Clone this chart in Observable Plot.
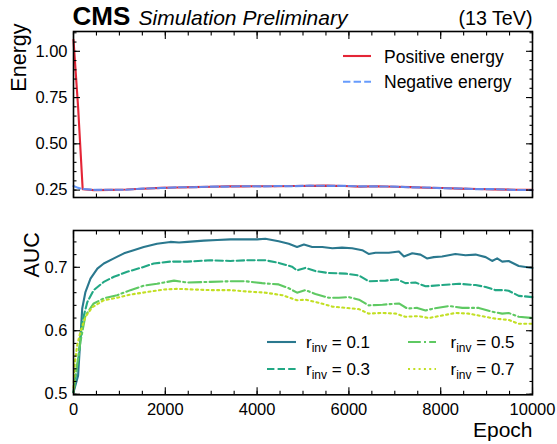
<!DOCTYPE html>
<html><head><meta charset="utf-8">
<script src="https://cdn.jsdelivr.net/npm/d3@7"></script>
<script src="https://cdn.jsdelivr.net/npm/@observablehq/plot@0.6"></script>
<style>
body{margin:0;background:#fff;}
#wrap{position:relative;width:557px;height:444px;overflow:hidden;font-family:"Liberation Sans",Arial,sans-serif;background:#fff;}
#top{position:absolute;left:0;top:0;}
#bot{position:absolute;left:0;top:205px;}
#legend{position:absolute;left:0;top:0;pointer-events:none;}
</style></head><body>
<div id="wrap"><div id="top"></div><div id="bot"></div><svg id="legend" width="557" height="444"></svg></div>
<script>
// ---- data ----
const energyEpochs = [0,100,200,450,800,1150,1500,1900,2250,2600,3000,3350,3700,4100,4450,4800,5150,5500,5900,6250,6600,7000,7350,7700,8050,8400,8800,9150,9600,10000];
const positiveEnergy = [1.062,0.700,0.255,0.250,0.251,0.253,0.257,0.262,0.264,0.266,0.268,0.270,0.270,0.271,0.271,0.272,0.273,0.274,0.272,0.269,0.271,0.268,0.266,0.263,0.261,0.258,0.256,0.254,0.252,0.251];
const negativeEnergy = [0.272,0.262,0.256,0.251,0.252,0.252,0.258,0.261,0.265,0.265,0.269,0.269,0.271,0.270,0.272,0.271,0.274,0.273,0.273,0.270,0.270,0.269,0.265,0.264,0.260,0.259,0.255,0.255,0.251,0.250];

const r01Epochs = [0,100,190,260,370,520,660,880,1100,1310,1530,1820,2110,2300,2480,2840,3130,3420,3750,4000,4180,4470,4690,4870,5020,5200,5420,5640,5850,6070,6290,6430,6580,6870,7090,7200,7380,7560,7700,7850,8030,8320,8540,8760,8980,9120,9230,9340,9480,9700,10000];
const r01Auc = [0.503,0.529,0.635,0.661,0.682,0.698,0.706,0.714,0.722,0.727,0.732,0.737,0.740,0.739,0.740,0.742,0.743,0.744,0.744,0.744,0.745,0.741,0.737,0.732,0.736,0.732,0.732,0.730,0.731,0.730,0.727,0.721,0.723,0.723,0.725,0.717,0.722,0.720,0.714,0.716,0.717,0.721,0.719,0.720,0.716,0.710,0.714,0.709,0.710,0.702,0.699];

const r03Epochs = [0,115,190,300,440,660,880,1170,1460,1750,2110,2480,2980,3420,3750,4180,4470,4760,4870,5050,5270,5560,5930,6220,6430,6800,7050,7230,7450,7670,8030,8400,8760,8980,9190,9380,9480,9700,10000];
const r03Auc = [0.503,0.561,0.614,0.645,0.664,0.677,0.685,0.693,0.699,0.706,0.709,0.709,0.711,0.710,0.711,0.711,0.707,0.701,0.695,0.699,0.694,0.691,0.690,0.687,0.678,0.679,0.681,0.675,0.676,0.670,0.672,0.674,0.672,0.669,0.664,0.664,0.663,0.655,0.653];

const r05Epochs = [0,45,150,260,440,660,950,1240,1530,1820,2190,2480,2980,3420,3750,4110,4470,4690,4870,5050,5270,5560,5780,6000,6220,6430,6730,7090,7270,7490,7670,7850,8180,8470,8830,9120,9340,9480,9700,10000];
const r05Auc = [0.503,0.529,0.582,0.624,0.643,0.651,0.656,0.664,0.671,0.674,0.679,0.676,0.677,0.678,0.678,0.675,0.673,0.667,0.660,0.664,0.658,0.652,0.652,0.653,0.649,0.640,0.641,0.643,0.635,0.636,0.632,0.635,0.639,0.636,0.636,0.630,0.627,0.628,0.622,0.620];

const r07Epochs = [0,30,80,150,260,410,660,950,1240,1600,1970,2260,2620,2980,3420,3750,4180,4550,4870,5050,5350,5640,5930,6220,6430,6730,7020,7230,7520,7740,8030,8320,8610,8900,9190,9480,9700,10000];
const r07Auc = [0.510,0.550,0.577,0.598,0.622,0.637,0.648,0.652,0.657,0.661,0.665,0.666,0.665,0.664,0.664,0.662,0.660,0.656,0.648,0.649,0.644,0.638,0.636,0.634,0.627,0.628,0.627,0.622,0.623,0.620,0.624,0.628,0.627,0.623,0.619,0.617,0.611,0.611];

const energyLabels = ["Positive energy", "Negative energy"];
const rinvLabels = ["0.1", "0.3", "0.5", "0.7"];
const xMajorTicks = [0,2000,4000,6000,8000,10000];
const xMinorTicks = d3.range(0, 10001, 500);
const energyMajorTicks = [0.25,0.50,0.75,1.00];
const energyMinorTicks = d3.range(0.25, 1.101, 0.05);
const aucMajorTicks = [0.5,0.6,0.7];
const aucMinorTicks = d3.range(0.5, 0.7501, 0.02);

// ---- styles ----
const posColor = "#e42536", negColor = "#5790fc";
const rColors = ["#2a788e", "#22a884", "#5ec962", "#c2df23"];
const rDash = [null, "7.4,3.2", "12.8,3.2,2,3.2", "2,3.3"];
const font = "Liberation Sans, Arial, sans-serif";

const mk = (ex, vs) => ex.map((e, i) => ({epoch: e, value: vs[i]}));
const posData = mk(energyEpochs, positiveEnergy);
const negData = mk(energyEpochs, negativeEnergy);
const aucData = [mk(r01Epochs, r01Auc), mk(r03Epochs, r03Auc), mk(r05Epochs, r05Auc), mk(r07Epochs, r07Auc)];

const none = () => "";
function frameTicks(yMaj, yMin) {
  const t = (axis, anchor, ticks, size) => axis({anchor, ticks, tickSize: -size, tickFormat: none, label: null, strokeWidth: 1.1});
  return [
    t(Plot.axisX, "bottom", xMajorTicks, 7), t(Plot.axisX, "bottom", xMinorTicks, 3.5),
    t(Plot.axisX, "top", xMajorTicks, 7), t(Plot.axisX, "top", xMinorTicks, 3.5),
    t(Plot.axisY, "left", yMaj, 7), t(Plot.axisY, "left", yMin, 3.5),
    t(Plot.axisY, "right", yMaj, 7), t(Plot.axisY, "right", yMin, 3.5)
  ];
}
const style = {fontFamily: font, fontSize: "16.5px", background: "white", overflow: "visible", color: "black"};

const topPlot = Plot.plot({
  width: 557, height: 205, marginLeft: 73, marginRight: 25, marginTop: 31, marginBottom: 8,
  style,
  x: {domain: [0, 10000]},
  y: {domain: [0.21, 1.107]},
  marks: [
    Plot.line(posData, {x: "epoch", y: "value", stroke: posColor, strokeWidth: 2.1}),
    Plot.line(negData, {x: "epoch", y: "value", stroke: negColor, strokeWidth: 2.1, strokeDasharray: "7.4,3.2", strokeOpacity: 0.9}),
    ...frameTicks(energyMajorTicks, energyMinorTicks),
    Plot.axisY({anchor: "left", ticks: energyMajorTicks, tickSize: 0, tickPadding: 6, tickFormat: d3.format(".2f"), label: null}),
    Plot.frame({stroke: "black", strokeWidth: 1.6}),
    Plot.text(["Energy"], {text: d => d, frameAnchor: "top-left", rotate: -90, textAnchor: "end", lineAnchor: "bottom", dx: -47.5, dy: -8, fontSize: 21.5}),
    Plot.text(["CMS"], {text: d => d, frameAnchor: "top-left", textAnchor: "start", lineAnchor: "bottom", dx: -1, dy: -6.5, fontSize: 26, fontWeight: "bold"}),
    Plot.text(["Simulation Preliminary"], {text: d => d, frameAnchor: "top-left", textAnchor: "start", lineAnchor: "bottom", dx: 65, dy: -6.5, fontSize: 21, fontStyle: "italic"}),
    Plot.text(["(13 TeV)"], {text: d => d, frameAnchor: "top-right", textAnchor: "end", lineAnchor: "bottom", dx: 0, dy: -6.5, fontSize: 19.7})
  ]
});
document.getElementById("top").append(topPlot);

const botPlot = Plot.plot({
  width: 557, height: 239, marginLeft: 73, marginRight: 25, marginTop: 25, marginBottom: 49.7,
  style,
  x: {domain: [0, 10000]},
  y: {domain: [0.499, 0.758]},
  marks: [
    ...aucData.map((d, i) => Plot.line(d, {x: "epoch", y: "value", stroke: rColors[i], strokeWidth: 2.1, strokeDasharray: rDash[i]})),
    ...frameTicks(aucMajorTicks, aucMinorTicks),
    Plot.axisY({anchor: "left", ticks: aucMajorTicks, tickSize: 0, tickPadding: 6, tickFormat: d3.format(".1f"), label: null}),
    Plot.axisX({anchor: "bottom", ticks: xMajorTicks, tickSize: 0, tickPadding: 8, tickFormat: d3.format("d"), label: null}),
    Plot.frame({stroke: "black", strokeWidth: 1.6}),
    Plot.text(["AUC"], {text: d => d, frameAnchor: "top-left", rotate: -90, textAnchor: "end", lineAnchor: "bottom", dx: -34.5, dy: 1.7, fontSize: 21.5}),
    Plot.text(["Epoch"], {text: d => d, frameAnchor: "bottom-right", textAnchor: "end", lineAnchor: "bottom", dx: 0, dy: 42.5, fontSize: 21})
  ]
});
document.getElementById("bot").append(botPlot);

// ---- legends ----
const lg = d3.select("#legend");
function sample(x1, x2, y, color, dash, opacity) {
  lg.append("line").attr("x1", x1).attr("x2", x2).attr("y1", y).attr("y2", y)
    .attr("stroke", color).attr("stroke-width", 2.1).attr("stroke-dasharray", dash)
    .attr("stroke-opacity", opacity ?? 1);
}
// energy legend
sample(343, 371, 56, posColor, null);
sample(343, 371, 81.7, negColor, "7.4,3.2", 0.9);
[[62.5, energyLabels[0]], [88, energyLabels[1]]].forEach(([yb, s]) => {
  lg.append("text").attr("x", 384).attr("y", yb).attr("font-family", font).attr("font-size", 17.5).text(s);
});
// AUC legend
const aucPos = [[267, 296, 306, 342], [267, 296, 306, 369], [408, 436, 450.5, 342], [408, 436, 450.5, 369]];
aucPos.forEach(([x1, x2, xt, y], i) => {
  sample(x1, x2, y, rColors[i], rDash[i]);
  const t = lg.append("text").attr("x", xt).attr("y", y + 6).attr("font-family", font).attr("font-size", 17);
  t.append("tspan").text("r");
  t.append("tspan").attr("dy", 4).attr("font-size", 12).text("inv");
  t.append("tspan").attr("dy", -4).text(" = " + rinvLabels[i]);
});
</script>
</body></html>
